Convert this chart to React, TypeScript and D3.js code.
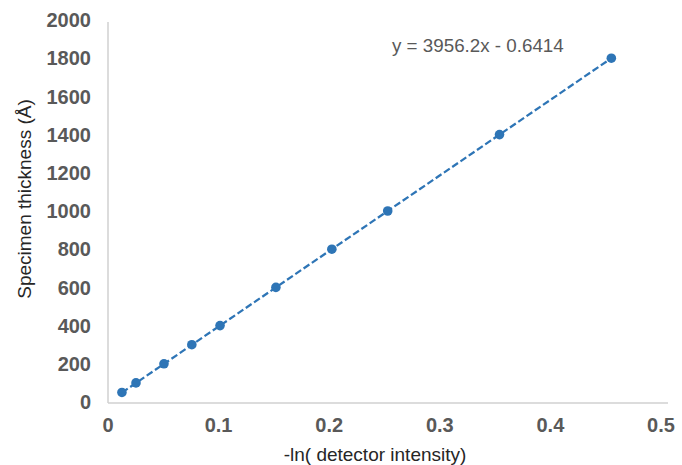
import React from "react";
import * as d3 from "d3";

const xValues = [0.0126, 0.0253, 0.0506, 0.0758, 0.1013, 0.1518, 0.2024, 0.2529, 0.3540, 0.4551];
const yValues = [50, 100, 200, 300, 400, 600, 800, 1000, 1400, 1800];
const xTicks = [0, 0.1, 0.2, 0.3, 0.4, 0.5];
const yTicks = [0, 200, 400, 600, 800, 1000, 1200, 1400, 1600, 1800, 2000];
const slope = 3956.2;
const intercept = -0.6414;
const equationLabel = "y = 3956.2x - 0.6414";
const xTitle = "-ln( detector intensity)";
const yTitle = "Specimen thickness (Å)";

const W = 682;
const H = 465;
const blue = "#2E75B6";
const font = "'Liberation Sans', Arial, sans-serif";

export default function App() {
  const x = d3.scaleLinear().domain([0, 0.5]).range([108, 661]);
  const y = d3.scaleLinear().domain([0, 2000]).range([402, 20]);
  const xMin = d3.min(xValues) as number;
  const xMax = d3.max(xValues) as number;
  const trend = d3.line<number>()
    .x((d) => x(d))
    .y((d) => y(slope * d + intercept))([xMin, xMax]) as string;

  return (
    <svg width={W} height={H} style={{ position: "absolute", left: 0, top: 0, background: "#fff" }} fontFamily={font}>
      <rect width={W} height={H} fill="#fff" />
      <line x1={x(0)} x2={x(0)} y1={y(2000) + 2} y2={y(0) + 1} stroke="#D0D0D0" strokeWidth={1.5} />
      <line x1={x(0)} x2={668} y1={y(0) + 1} y2={y(0) + 1} stroke="#D0D0D0" strokeWidth={1.5} />
      {yTicks.map((t) => (
        <text key={t} x={91} y={y(t)} dy="0.36em" textAnchor="end" fontSize={20} fontWeight="bold" fill="#595959">
          {t}
        </text>
      ))}
      {xTicks.map((t) => (
        <text key={t} x={x(t)} y={432} textAnchor="middle" fontSize={20} fontWeight="bold" fill="#595959">
          {t}
        </text>
      ))}
      <text x={375} y={461} textAnchor="middle" fontSize={19} fill="#262626">{xTitle}</text>
      <text transform={`translate(31,199) rotate(-90)`} textAnchor="middle" fontSize={19} fill="#262626">{yTitle}</text>
      <path d={trend} fill="none" stroke={blue} strokeWidth={2.25} strokeDasharray="7,3" />
      {xValues.map((xv, i) => (
        <circle key={i} cx={x(xv)} cy={y(yValues[i])} r={4.8} fill={blue} />
      ))}
      <text x={392} y={52} fontSize={18.8} fill="#595959">{equationLabel}</text>
    </svg>
  );
}
